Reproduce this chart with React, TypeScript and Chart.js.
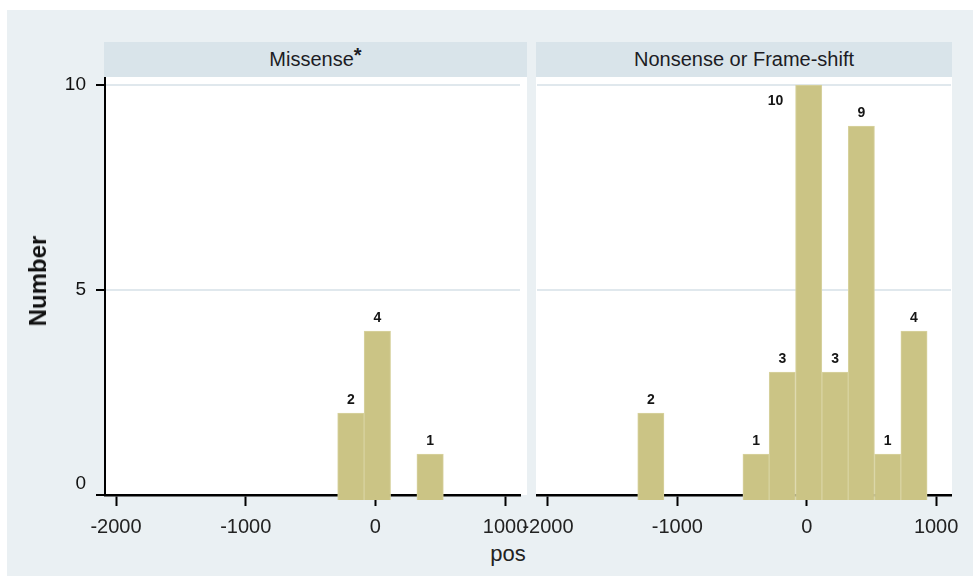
import React, { useEffect, useRef } from 'react';
import { Chart, registerables } from 'chart.js';

Chart.register(...registerables);

// ---- data ----
const binCenters = [-1205, -392, -189, 15, 219, 422, 625, 829];
const missenseCounts: (number | null)[] = [null, null, 2, 4, null, 1, null, null];
const nonsenseCounts: (number | null)[] = [2, 1, 3, 10, 3, 9, 1, 4];
const panelTitles = ['Missense', 'Nonsense or Frame-shift'];
const panelMarks = ['*', ''];
const xTicks = [-2000, -1000, 0, 1000];
const yTicks = [0, 5, 10];
const xTitle = 'pos';
const yTitle = 'Number';

// ---- style ----
const FONT = '"Liberation Sans", Arial, Helvetica, sans-serif';
const OUTER_BG = '#eaf0f3';
const HEADER_BG = '#d9e4ea';
const GRID = '#e0e8ed';
const BAR_FILL = '#cbc485';
const BAR_EDGE = '#d8d3a0';

const barLabels = {
  id: 'barLabels',
  afterDatasetsDraw(chart: any) {
    const { ctx, chartArea } = chart;
    const meta = chart.getDatasetMeta(0);
    const ds = chart.data.datasets[0];
    ctx.save();
    ctx.font = `bold 14px ${FONT}`;
    ctx.fillStyle = '#151515';
    ctx.textAlign = 'center';
    ctx.textBaseline = 'middle';
    meta.data.forEach((bar: any, i: number) => {
      const v = ds.data[i].y;
      const p = bar.getProps(['x', 'y', 'width'], true);
      if (p.y - 20 < chartArea.top) {
        ctx.fillText(String(v), p.x - p.width / 2 - 20, p.y + 16);
      } else {
        ctx.fillText(String(v), p.x, p.y - 13);
      }
    });
    ctx.restore();
  },
};

const noPad = (s: any) => {
  s.paddingTop = 0;
  s.paddingBottom = 0;
  s.paddingLeft = 0;
  s.paddingRight = 0;
};

function makeConfig(counts: (number | null)[], isLeft: boolean, yWidth: number, rightPad: number): any {
  const data = binCenters
    .map((x, i) => ({ x, y: counts[i] }))
    .filter((p) => p.y !== null && p.y !== undefined);
  return {
    type: 'bar',
    data: {
      datasets: [
        {
          data,
          backgroundColor: BAR_FILL,
          borderColor: BAR_EDGE,
          borderWidth: 1,
          base: -0.12,
          clip: false,
          barPercentage: 1,
          categoryPercentage: 1,
        },
      ],
    },
    options: {
      animation: false,
      responsive: false,
      maintainAspectRatio: false,
      layout: { padding: { left: 0, right: rightPad, top: 0, bottom: 0 } },
      plugins: {
        legend: { display: false },
        tooltip: { enabled: false },
        title: { display: false },
      },
      scales: {
        x: {
          type: 'linear',
          min: -2085,
          max: 1115,
          offset: false,
          z: 1,
          afterBuildTicks: (s: any) => {
            s.ticks = xTicks.map((v) => ({ value: v }));
          },
          afterFit: (s: any) => {
            s.height = 45;
            noPad(s);
          },
          grid: {
            offset: false,
            drawOnChartArea: false,
            drawTicks: true,
            tickLength: 11,
            tickWidth: 2,
            tickColor: '#000',
          },
          border: { display: true, color: '#000', width: 2.5 },
          ticks: {
            font: { family: FONT, size: 20 },
            color: '#222',
            padding: 9,
            maxRotation: 0,
            autoSkip: false,
            callback: (v: any) => String(v),
          },
        },
        y: isLeft
          ? {
              min: 0,
              max: 10.2,
              afterBuildTicks: (s: any) => {
                s.ticks = yTicks.map((v) => ({ value: v }));
              },
              afterFit: (s: any) => {
                s.width = yWidth;
                noPad(s);
              },
              grid: {
                color: (c: any) => (c.tick && c.tick.value === 0 ? 'rgba(0,0,0,0)' : GRID),
                lineWidth: 2,
                drawTicks: true,
                tickLength: 9,
                tickWidth: 2,
                tickColor: '#000',
              },
              border: { display: true, color: '#000', width: 2 },
              ticks: {
                font: { family: FONT, size: 19 },
                color: '#111',
                padding: 10,
                callback: (v: any) => (v === 0 ? ['0', ''] : String(v)),
              },
            }
          : {
              min: 0,
              max: 10.2,
              afterBuildTicks: (s: any) => {
                s.ticks = yTicks.map((v) => ({ value: v }));
              },
              afterFit: (s: any) => {
                s.width = yWidth;
                noPad(s);
              },
              grid: {
                color: (c: any) => (c.tick && c.tick.value === 0 ? 'rgba(0,0,0,0)' : GRID),
                lineWidth: 2,
                drawTicks: false,
              },
              border: { display: false },
              ticks: { display: false },
            },
      },
    },
    plugins: [barLabels],
  };
}

function Panel({
  counts,
  isLeft,
  left,
  width,
  yWidth,
  rightPad,
}: {
  counts: (number | null)[];
  isLeft: boolean;
  left: number;
  width: number;
  yWidth: number;
  rightPad: number;
}) {
  const ref = useRef<HTMLCanvasElement | null>(null);
  useEffect(() => {
    if (!ref.current) return;
    const chart = new Chart(ref.current, makeConfig(counts, isLeft, yWidth, rightPad));
    return () => chart.destroy();
  }, []);
  return (
    <canvas
      ref={ref}
      width={width}
      height={463}
      style={{ position: 'absolute', left, top: 77, width, height: 463 }}
    />
  );
}

export default function App() {
  const headerStyle = (left: number, width: number): React.CSSProperties => ({
    position: 'absolute',
    left,
    top: 42,
    width,
    height: 35,
    background: HEADER_BG,
    display: 'flex',
    alignItems: 'center',
    justifyContent: 'center',
    fontFamily: FONT,
    fontSize: 20,
    color: '#1c1c24',
    whiteSpace: 'nowrap',
  });
  const plotStyle = (left: number, width: number): React.CSSProperties => ({
    position: 'absolute',
    left,
    top: 77,
    width,
    height: 418,
    background: '#ffffff',
  });
  return (
    <div style={{ position: 'absolute', left: 0, top: 0, width: 973, height: 576, background: '#fff', overflow: 'hidden' }}>
      <div style={{ position: 'absolute', left: 7, top: 10, width: 966, height: 566, background: OUTER_BG }} />
      <div style={plotStyle(104, 423)} />
      <div style={plotStyle(536, 416)} />
      <div style={headerStyle(104, 423)}>
        {panelTitles[0]}
        <span style={{ fontWeight: 'bold', position: 'relative', top: -4 }}>{panelMarks[0]}</span>
      </div>
      <div style={headerStyle(536, 416)}>
        {panelTitles[1]}
        {panelMarks[1]}
      </div>
      <Panel counts={missenseCounts} isLeft={true} left={0} width={530} yWidth={105} rightPad={10} />
      <Panel counts={nonsenseCounts} isLeft={false} left={505} width={468} yWidth={32} rightPad={22} />
      <div
        style={{
          position: 'absolute',
          left: 38,
          top: 281,
          transform: 'translate(-50%, -50%) rotate(-90deg)',
          fontFamily: FONT,
          fontWeight: 'bold',
          fontSize: 24,
          color: '#111',
          whiteSpace: 'nowrap',
        }}
      >
        {yTitle}
      </div>
      <div
        style={{
          position: 'absolute',
          left: 508,
          top: 554,
          transform: 'translate(-50%, -50%)',
          fontFamily: FONT,
          fontSize: 22,
          color: '#222',
          whiteSpace: 'nowrap',
        }}
      >
        {xTitle}
      </div>
    </div>
  );
}
